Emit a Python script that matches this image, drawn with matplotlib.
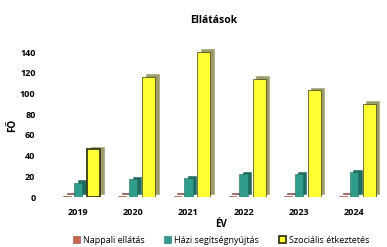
import matplotlib.pyplot as plt
import numpy as np

years = ["2019", "2020", "2021", "2022", "2023", "2024"]
nappali = [1, 1, 1, 1, 1, 1]
hazi = [14, 17, 18, 22, 22, 24]
szocialis = [46, 116, 140, 114, 103, 90]
series_names = ["Nappali ellátás", "Házi segítségnyújtás", "Szociális étkeztetés"]

plt.rcParams['font.family'] = ['Open Sans', 'DejaVu Sans']

fig = plt.figure(figsize=(3.87, 2.47), dpi=100)
ax = fig.add_axes([0.142, 0.2024, 0.858, 0.629])

x = np.arange(len(years))
depth_x = 0.065
depth_y = 2.5

def bar3d(pos, vals, width, face, side, edge, lw, label):
    # fake depth: darker bar shifted back/up, then the front face
    ax.bar(pos + depth_x, vals, width, bottom=depth_y, color=side,
           edgecolor=side, linewidth=0.4, zorder=2)
    ax.bar(pos, vals, width, color=face, edgecolor=edge, linewidth=lw,
           zorder=3, label=label)

bar3d(x - 0.2, nappali, 0.14, "#c8664e", "#7a4a40", "#8a4535", 0.4, series_names[0])
bar3d(x, hazi, 0.15, "#2f9c8c", "#1f6b60", "#1f6b60", 0.4, series_names[1])
# the 2019 yellow bar is drawn with a heavier outline in the original
bar3d(x + 0.28, szocialis, 0.235, "#ffff33", "#9c9c6c", "#3a3a18",
      [1.3, 0.5, 0.5, 0.5, 0.5, 0.5], series_names[2])

ax.set_xlim(-0.42, 5.6)
ax.set_ylim(0, 150)
ax.set_yticks(range(0, 141, 20))
ax.set_xticks(x)
ax.set_xticklabels(years)
for s in ax.spines.values():
    s.set_visible(False)
ax.tick_params(length=0, labelsize=6.5)
ax.tick_params(axis='y', pad=14)
ax.tick_params(axis='x', pad=8)
for t in ax.get_xticklabels() + ax.get_yticklabels():
    t.set_fontweight('bold')

ax.set_ylabel("FŐ", fontsize=7, fontweight='bold')
ax.yaxis.set_label_coords(-0.111, 0.46)
ax.set_xlabel("ÉV", fontsize=7, fontweight='bold', labelpad=1)
fig.text(0.553, 0.915, "Ellátások", ha='center', va='center',
         fontsize=7.5, fontweight='bold')

fig.legend(*ax.get_legend_handles_labels(), loc='center', ncol=3,
           bbox_to_anchor=(0.571, 0.028), frameon=False, fontsize=6.5,
           handlelength=0.8, handleheight=0.8, handletextpad=0.3,
           columnspacing=2.2)

fig.savefig("out.png", dpi=100)
